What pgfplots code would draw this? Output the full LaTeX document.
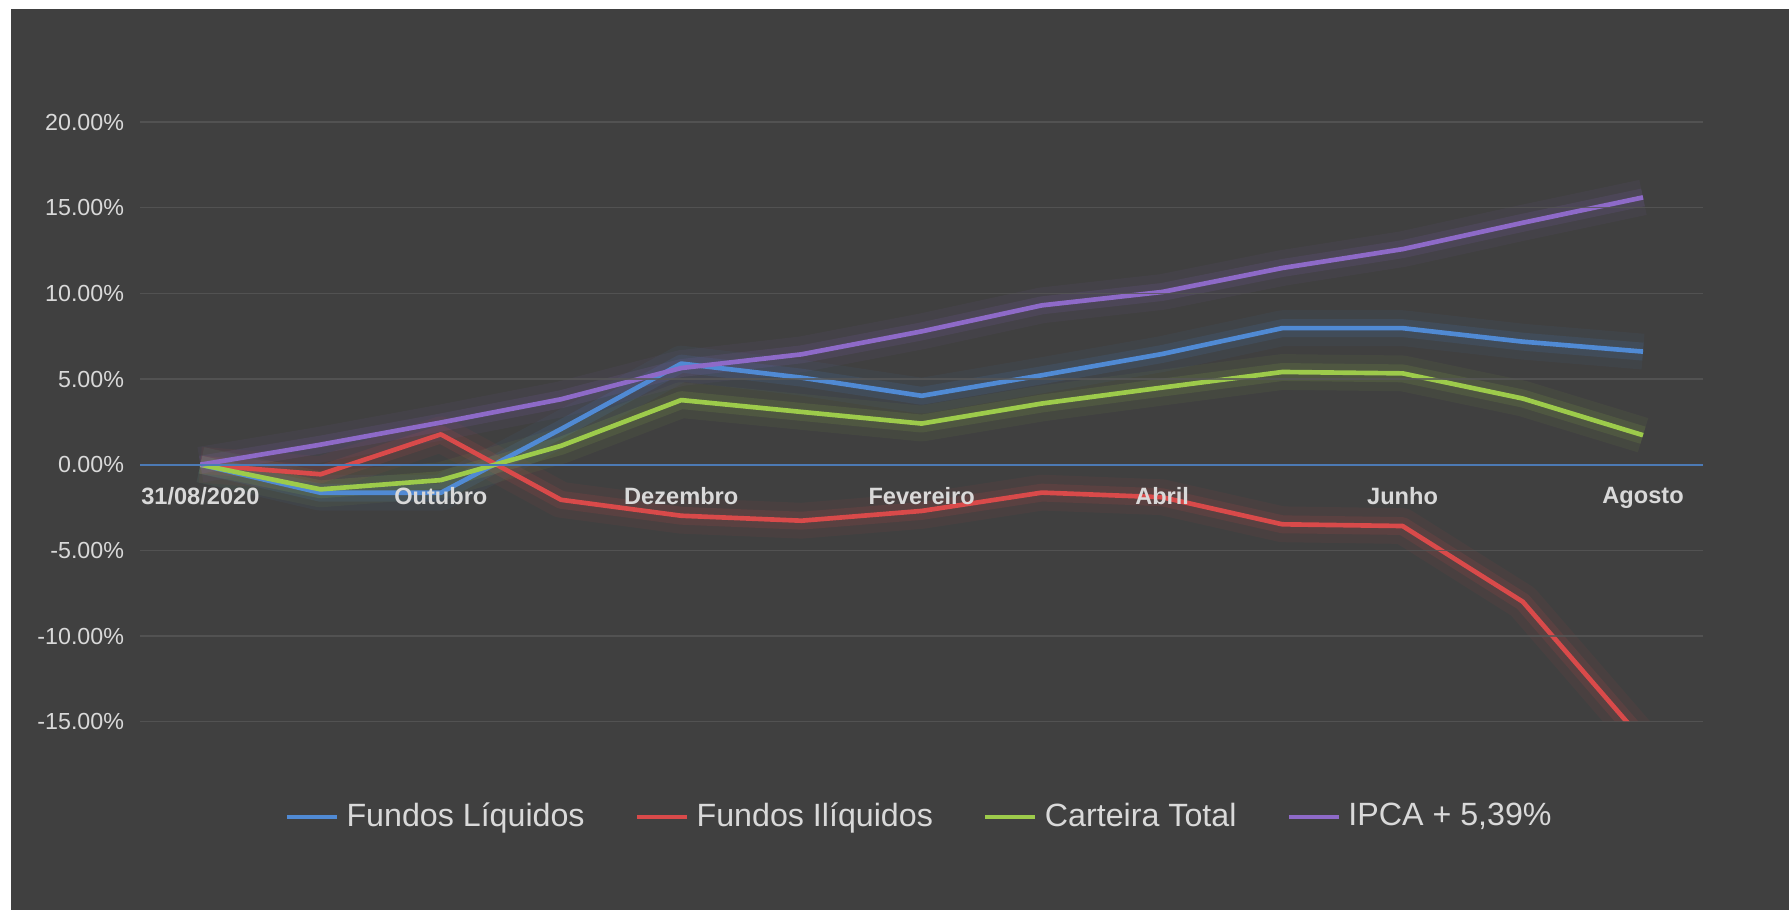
\documentclass[border=0pt]{standalone}
\usepackage{pgfplots}
\pgfplotsset{compat=1.18}
\usepackage{fontspec}
\setmainfont{Liberation Sans}

\definecolor{bgdark}{HTML}{404040}
\definecolor{gridgray}{HTML}{575757}
\definecolor{zeroblue}{HTML}{4C7AB5}
\definecolor{txt}{HTML}{D9D9D9}
\definecolor{cblue}{HTML}{508AD4}
\definecolor{cred}{HTML}{D94A4A}
\definecolor{cgreen}{HTML}{9DCB4B}
\definecolor{cpurple}{HTML}{8E6AC8}

% index 0 = 31/08/2020, then one point per month up to Agosto (12)
\pgfplotstableread{
x y
0 0
1 -1.64
2 -1.64
3 2.08
4 5.90
5 5.08
6 4.02
7 5.22
8 6.46
9 7.97
10 7.97
11 7.18
12 6.60
}\liquidos

\pgfplotstableread{
x y
0 0
1 -0.56
2 1.77
3 -2.05
4 -2.98
5 -3.27
6 -2.70
7 -1.63
8 -1.90
9 -3.48
10 -3.58
11 -8.00
12 -16.10
}\iliquidos

\pgfplotstableread{
x y
0 0
1 -1.44
2 -0.90
3 1.10
4 3.77
5 3.08
6 2.40
7 3.57
8 4.50
9 5.41
10 5.33
11 3.86
12 1.72
}\carteira

\pgfplotstableread{
x y
0 0
1 1.17
2 2.46
3 3.82
4 5.64
5 6.44
6 7.78
7 9.30
8 10.08
9 11.48
10 12.58
11 14.12
12 15.60
}\ipca

\begin{document}
\begin{tikzpicture}
\fill[white] (0pt,0pt) rectangle (500pt,254.3pt);
\fill[bgdark] (3pt,0pt) rectangle (500pt,251.8pt);
\begin{axis}[
    axis on top,
    at={(39.2pt,52.6pt)}, anchor=south west,
    scale only axis,
    width=436.8pt, height=167.6pt,
    xmin=-0.5, xmax=12.5,
    ymin=-15, ymax=20,
    axis x line*=middle,
    axis y line*=left,
    x axis line style={color=zeroblue, line width=0.6pt},
    y axis line style={draw=none},
    hide obscured x ticks=false,
    hide obscured y ticks=false,
    major tick length=0pt,
    xtick={0,2,4,6,8,10,12},
    xticklabels={31/08/2020,Outubro,Dezembro,Fevereiro,Abril,Junho,Agosto},
    xticklabel style={font=\bfseries\fontsize{6.6}{7}\selectfont, text=txt, yshift=-2.7pt},
    ytick={-15,-10,-5,0,5,10,15,20},
    yticklabels={-15.00\%,-10.00\%,-5.00\%,0.00\%,5.00\%,10.00\%,15.00\%,20.00\%},
    yticklabel style={font=\fontsize{6.5}{7}\selectfont, text=txt, xshift=-1pt},
    ymajorgrids=true,
    grid style={color=gridgray, line width=0.45pt, opacity=0.8},
    legend columns=4,
    legend style={at={(0.5,-0.159)}, anchor=center, draw=none, fill=none,
        font=\fontsize{9}{11}\selectfont, text=txt,
        /tikz/every even column/.append style={column sep=12pt}},
    legend image code/.code={\draw[line width=1.3pt] (0pt,0pt) -- (14pt,0pt);},
    line join=round,
]
% soft glow under each line
\addplot[forget plot, color=cblue, line width=10pt, opacity=0.06] table {\liquidos};
\addplot[forget plot, color=cblue, line width=5pt, opacity=0.12] table {\liquidos};
\addplot[forget plot, color=cred, line width=10pt, opacity=0.06] table {\iliquidos};
\addplot[forget plot, color=cred, line width=5pt, opacity=0.12] table {\iliquidos};
\addplot[forget plot, color=cgreen, line width=10pt, opacity=0.06] table {\carteira};
\addplot[forget plot, color=cgreen, line width=5pt, opacity=0.12] table {\carteira};
\addplot[forget plot, color=cpurple, line width=10pt, opacity=0.06] table {\ipca};
\addplot[forget plot, color=cpurple, line width=5pt, opacity=0.12] table {\ipca};

\addplot[color=cblue, line width=1.3pt, mark=none] table {\liquidos};
\addplot[color=cred, line width=1.3pt, mark=none] table {\iliquidos};
\addplot[color=cgreen, line width=1.3pt, mark=none] table {\carteira};
\addplot[color=cpurple, line width=1.3pt, mark=none] table {\ipca};
\legend{Fundos Líquidos, Fundos Ilíquidos, Carteira Total, {IPCA + 5,39\%}}
\end{axis}
\end{tikzpicture}
\end{document}
